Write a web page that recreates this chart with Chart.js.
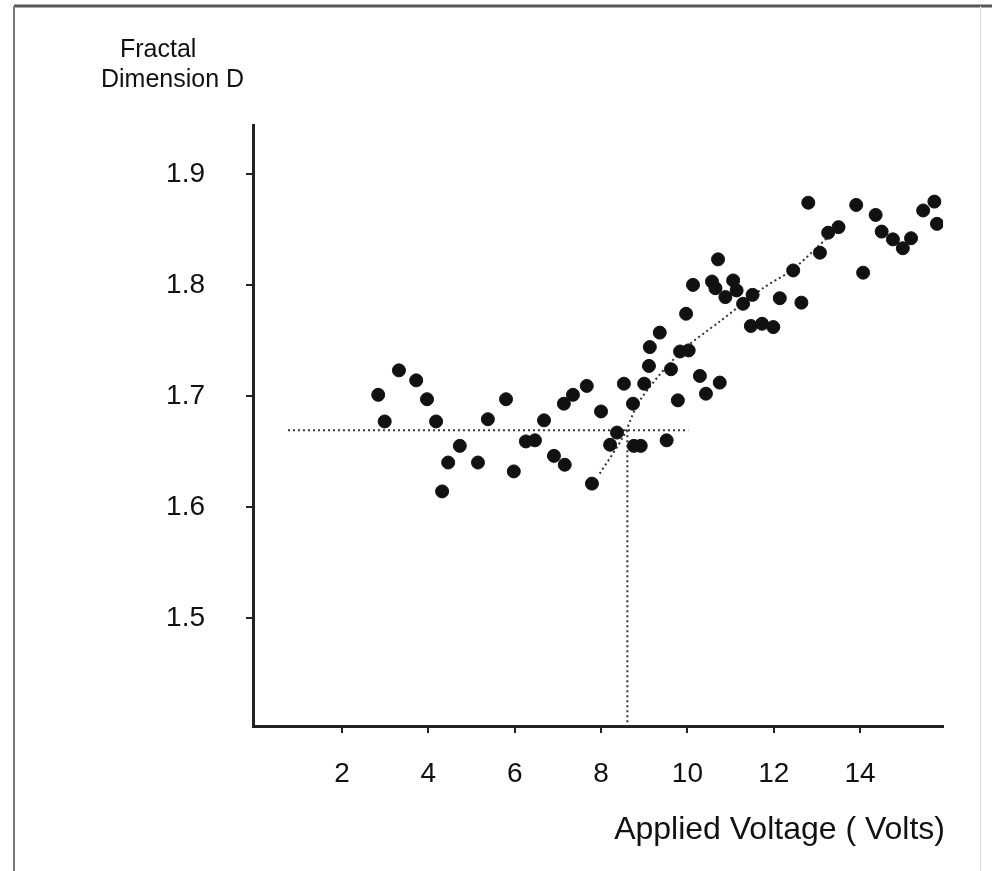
<!DOCTYPE html>
<html>
<head>
<meta charset="utf-8">
<title>Fractal Dimension vs Applied Voltage</title>
<script src="https://cdn.jsdelivr.net/npm/chart.js@4.4.1/dist/chart.umd.min.js"></script>
<style>
  html, body { margin: 0; padding: 0; background: #fff; }
  #wrap { position: relative; width: 992px; height: 871px; }
</style>
</head>
<body>
<div id="wrap"><canvas id="chart-area" width="992" height="871"></canvas></div>
<script>
// measured points: applied voltage (V) and fractal dimension D
var voltage = [2.84, 2.99, 3.32, 3.72, 3.97, 4.18, 4.32, 4.46, 4.73, 5.15,
    5.38, 5.80, 5.98, 6.26, 6.47, 6.68, 6.91, 7.14, 7.16, 7.35,
    7.67, 7.79, 8.00, 8.21, 8.37, 8.53, 8.74, 8.76, 8.92, 9.00,
    9.11, 9.13, 9.36, 9.52, 9.62, 9.78, 9.83, 9.97, 10.03, 10.13,
    10.29, 10.43, 10.57, 10.65, 10.71, 10.75, 10.88, 11.06, 11.14, 11.29,
    11.47, 11.51, 11.73, 11.99, 12.14, 12.45, 12.64, 12.80, 13.07, 13.26,
    13.50, 13.91, 14.07, 14.36, 14.50, 14.76, 14.99, 15.18, 15.46, 15.72, 15.78];
var dimension = [1.701, 1.677, 1.723, 1.714, 1.697, 1.677, 1.614, 1.640, 1.655, 1.640,
    1.679, 1.697, 1.632, 1.659, 1.660, 1.678, 1.646, 1.693, 1.638, 1.701,
    1.709, 1.621, 1.686, 1.656, 1.667, 1.711, 1.693, 1.655, 1.655, 1.711,
    1.727, 1.744, 1.757, 1.660, 1.724, 1.696, 1.740, 1.774, 1.741, 1.800,
    1.718, 1.702, 1.803, 1.797, 1.823, 1.712, 1.789, 1.804, 1.795, 1.783,
    1.763, 1.791, 1.765, 1.762, 1.788, 1.813, 1.784, 1.874, 1.829, 1.847,
    1.852, 1.872, 1.811, 1.863, 1.848, 1.841, 1.833, 1.842, 1.867, 1.875, 1.855];

// dotted guide lines: threshold level, threshold voltage and the rising trend
var thresholdD = 1.669;
var thresholdV = 8.61;
var levelFrom = 0.75;
var levelTo = 10.02;
var trendV = [7.97, 8.51, 8.90, 9.83, 10.75, 11.75, 12.44, 13.23];
var trendD = [1.630, 1.663, 1.696, 1.739, 1.767, 1.797, 1.814, 1.842];

var xTicks = [2, 4, 6, 8, 10, 12, 14];
var yTicks = [1.5, 1.6, 1.7, 1.8, 1.9];
var xMin = -0.06, xMax = 15.92;
var yMin = 1.4027, yMax = 1.944;

var FONT = '"Liberation Sans", Arial, sans-serif';

function pairs(xs, ys) {
    var out = [];
    for (var i = 0; i < xs.length; i++) {
        out.push({x: xs[i], y: ys[i]});
    }
    return out;
}

var dotted = {
    showLine: true,
    borderColor: '#333',
    borderWidth: 2,
    borderDash: [2, 3],
    pointRadius: 0,
    fill: false
};

// frame around the figure and the two axis captions
var decorations = {
    id: 'decorations',
    beforeDraw: function (chart) {
        var ctx = chart.ctx;
        ctx.save();
        ctx.fillStyle = '#fff';
        ctx.fillRect(0, 0, chart.width, chart.height);
        ctx.strokeStyle = '#555';
        ctx.lineWidth = 3;
        ctx.beginPath();
        ctx.moveTo(14, 6);
        ctx.lineTo(992, 6);
        ctx.stroke();
        ctx.lineWidth = 2;
        ctx.strokeStyle = '#777';
        ctx.beginPath();
        ctx.moveTo(14, 6);
        ctx.lineTo(14, 871);
        ctx.stroke();
        ctx.strokeStyle = '#ddd';
        ctx.lineWidth = 1;
        ctx.beginPath();
        ctx.moveTo(980.5, 6);
        ctx.lineTo(980.5, 871);
        ctx.stroke();
        ctx.restore();
    },
    afterDraw: function (chart) {
        var ctx = chart.ctx;
        ctx.save();
        ctx.fillStyle = '#111';
        ctx.textBaseline = 'middle';
        ctx.font = '25px ' + FONT;
        ctx.textAlign = 'left';
        ctx.fillText('Fractal', 120, 50);
        ctx.fillText('Dimension D', 101, 80);
        ctx.font = '32px ' + FONT;
        ctx.textAlign = 'right';
        ctx.fillText('Applied Voltage ( Volts)', 945, 830);
        ctx.restore();
    }
};

var config = {
    type: 'scatter',
    data: {
        datasets: [{
                label: 'D',
                data: pairs(voltage, dimension),
                backgroundColor: '#111',
                borderColor: '#111',
                pointRadius: 6.5,
                pointHoverRadius: 6.5
            }, Object.assign({
                label: 'threshold level',
                data: [{x: levelFrom, y: thresholdD}, {x: levelTo, y: thresholdD}]
            }, dotted), Object.assign({
                label: 'threshold voltage',
                data: [{x: thresholdV, y: thresholdD}, {x: thresholdV, y: yMin}]
            }, dotted), Object.assign({
                label: 'trend',
                data: pairs(trendV, trendD),
                tension: 0.3
            }, dotted)]
    },
    options: {
        responsive: false,
        animation: false,
        layout: {
            padding: {left: 0, right: 49, top: 125, bottom: 0}
        },
        plugins: {
            legend: {display: false},
            tooltip: {enabled: false}
        },
        scales: {
            x: {
                type: 'linear',
                min: xMin,
                max: xMax,
                afterBuildTicks: function (scale) {
                    scale.ticks = xTicks.map(function (v) { return {value: v}; });
                },
                afterFit: function (scale) {
                    scale.height = 145;
                },
                grid: {
                    drawOnChartArea: false,
                    drawTicks: true,
                    tickLength: 7,
                    color: '#222',
                    lineWidth: 2
                },
                border: {display: true, color: '#222', width: 3},
                ticks: {
                    color: '#111',
                    padding: 24,
                    maxRotation: 0,
                    font: {family: FONT, size: 28}
                }
            },
            y: {
                type: 'linear',
                min: yMin,
                max: yMax,
                afterBuildTicks: function (scale) {
                    scale.ticks = yTicks.map(function (v) { return {value: v}; });
                },
                afterFit: function (scale) {
                    scale.width = 253;
                },
                grid: {
                    drawOnChartArea: false,
                    drawTicks: true,
                    tickLength: 7,
                    color: '#222',
                    lineWidth: 2
                },
                border: {display: true, color: '#222', width: 3},
                ticks: {
                    color: '#111',
                    padding: 41,
                    font: {family: FONT, size: 28},
                    callback: function (v) { return v.toFixed(1); }
                }
            }
        }
    },
    plugins: [decorations]
};

var ctx = document.getElementById('chart-area').getContext('2d');
var myScatter = new Chart(ctx, config);
</script>
</body>
</html>
